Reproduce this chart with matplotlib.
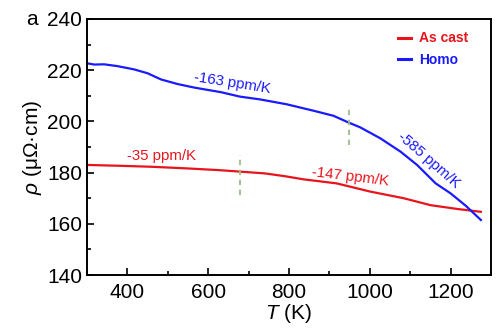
import matplotlib
matplotlib.use("Agg")
import matplotlib.pyplot as plt
from matplotlib.ticker import MultipleLocator

plt.rcParams['font.family'] = ['Liberation Sans', 'DejaVu Sans']
plt.rcParams['mathtext.fontset'] = 'custom'
plt.rcParams['mathtext.it'] = 'Liberation Sans:italic'
plt.rcParams['mathtext.rm'] = 'Liberation Sans'

# Resistivity vs temperature
T_cast = [300, 375, 458, 541, 624, 678, 740, 790, 835, 918, 1001, 1084, 1150, 1217, 1275]
rho_cast = [183.0, 182.7, 182.3, 181.7, 181.0, 180.4, 179.7, 178.6, 177.4, 175.8, 172.6, 170.0, 167.3, 165.8, 164.7]

T_homo = [300, 318, 342, 375, 417, 450, 483, 524, 566, 632, 678, 728, 794, 860, 910, 947,
          976, 1026, 1076, 1117, 1163, 1200, 1238, 1275]
rho_homo = [222.7, 222.2, 222.3, 221.6, 220.3, 218.8, 216.4, 214.6, 213.2, 211.4, 209.7, 208.6,
            206.7, 204.2, 202.2, 199.6, 197.7, 193.4, 188.2, 183.0, 175.8, 171.9, 167.0, 161.5]

# Slope annotations: text, T, rho, rotation, series
slope_labels = [
    ("-163 ppm/K", 660, 215.0, -9, "homo"),
    ("-35 ppm/K", 484, 186.5, 0, "cast"),
    ("-147 ppm/K", 952, 178.3, -7, "cast"),
    ("-585 ppm/K", 1146, 185.0, -41, "homo"),
]

# Regime boundaries: T, rho_low, rho_high
boundaries = [(678, 171.2, 187.0), (949, 190.8, 206.5)]

red = '#e8141c'
blue = '#1a1aff'
green = '#9bbf85'
colors = {"cast": red, "homo": blue}

fig = plt.figure(figsize=(5.0, 3.33), dpi=100)
ax = fig.add_axes([0.174, 0.174, 0.808, 0.769])

ax.plot(T_cast, rho_cast, color=red, lw=1.6, label='As cast')
ax.plot(T_homo, rho_homo, color=blue, lw=1.6, label='Homo')

for t, lo, hi in boundaries:
    ax.plot([t, t], [lo, hi], color=green, lw=1.3, ls=(0, (3, 2.5)))

for txt, t, r, rot, s in slope_labels:
    ax.text(t, r, txt, color=colors[s], fontsize=10.8, rotation=rot,
            ha='center', va='center', rotation_mode='anchor')

ax.set_xlim(300, 1300)
ax.set_ylim(140, 240)
ax.xaxis.set_major_locator(MultipleLocator(200))
ax.xaxis.set_minor_locator(MultipleLocator(100))
ax.yaxis.set_major_locator(MultipleLocator(20))
ax.yaxis.set_minor_locator(MultipleLocator(10))
ax.set_xticks([400, 600, 800, 1000, 1200])
ax.tick_params(which='both', direction='in', labelsize=15, width=1.2)
ax.tick_params(which='major', length=5)
ax.tick_params(which='minor', length=3)
ax.tick_params(axis='x', pad=6)
for sp in ax.spines.values():
    sp.set_linewidth(1.4)

ax.set_xlabel(r'$\mathit{T}$ (K)', fontsize=15, labelpad=0)
ax.set_ylabel(r'$\mathit{\rho}$ (μΩ·cm)', fontsize=15, labelpad=2)

leg = ax.legend(loc='upper right', bbox_to_anchor=(0.975, 1.0), frameon=False,
                handlelength=0.9, handletextpad=0.6, labelspacing=0.55,
                prop={'weight': 'bold', 'size': 10})
for h, c in zip(leg.get_lines(), [red, blue]):
    h.set_linewidth(2.2)
for t, c in zip(leg.get_texts(), [red, blue]):
    t.set_color(c)

fig.text(0.052, 0.925, 'a', fontsize=15)

fig.savefig('out.png', dpi=100)
